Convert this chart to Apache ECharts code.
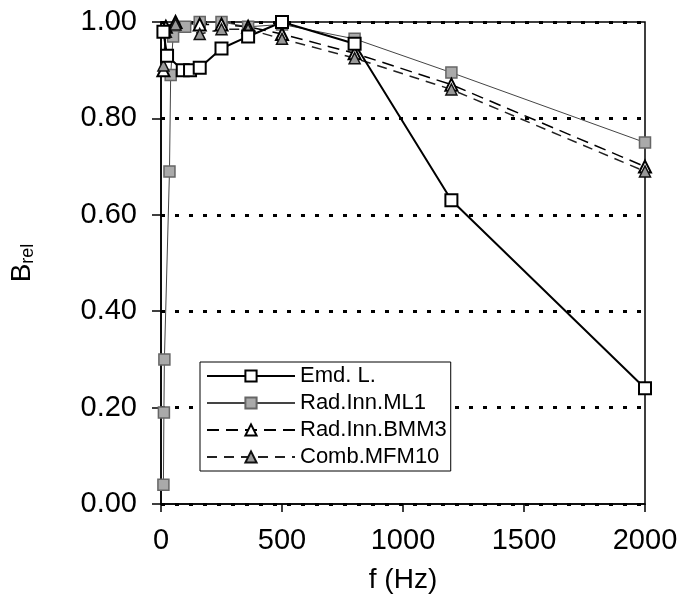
<!DOCTYPE html>
<html lang="en">
<head>
    <meta charset="UTF-8">
    <title>B_rel vs f</title>
</head>
<body style="margin:0;background:#fff">
<div id="main" style="width:680px;height:605px"></div>
<script src="https://cdn.jsdelivr.net/npm/echarts@6/dist/echarts.min.js"></script>
<script>
    // data: [f (Hz), B_rel]
    var emdL = [[10, 0.98], [25, 0.93], [90, 0.90], [120, 0.90], [160, 0.905], [250, 0.945],
        [360, 0.97], [500, 1.00], [800, 0.955], [1200, 0.63], [2000, 0.24]];
    var radML1 = [[10, 0.04], [12, 0.19], [14, 0.30], [35, 0.69], [40, 0.89], [50, 0.97],
        [100, 0.99], [160, 1.00], [250, 1.00], [360, 0.99], [500, 0.995], [800, 0.965],
        [1200, 0.895], [2000, 0.75]];
    var radBMM3 = [[10, 0.90], [20, 0.99], [60, 1.00], [160, 0.995], [250, 0.995], [360, 0.99],
        [500, 0.975], [800, 0.935], [1200, 0.87], [2000, 0.70]];
    var combMFM10 = [[10, 0.91], [20, 0.98], [60, 0.995], [160, 0.975], [250, 0.985], [360, 0.985],
        [500, 0.965], [800, 0.925], [1200, 0.86], [2000, 0.69]];
    var names = ['Emd. L.', 'Rad.Inn.ML1', 'Rad.Inn.BMM3', 'Comb.MFM10'];

    var font = 'Liberation Sans, Arial, sans-serif';
    var myChart = echarts.init(document.getElementById('main'));
    myChart.setOption({
        backgroundColor: '#fff',
        animation: false,
        grid: {
            left: 161, right: 35, top: 22, bottom: 101,
            outerBoundsMode: 'none', containLabel: false,
            show: true, borderColor: '#000', borderWidth: 1.5, backgroundColor: 'transparent'
        },
        legend: {
            orient: 'vertical',
            left: 200, top: 362,
            backgroundColor: '#fff',
            borderColor: '#000', borderWidth: 1,
            padding: [3, 4, 3, 6],
            itemWidth: 88, itemHeight: 14, itemGap: 5,
            data: names,
            textStyle: {fontFamily: font, fontSize: 22, color: '#000'}
        },
        xAxis: {
            type: 'value', min: 0, max: 2000, interval: 500,
            name: 'f (Hz)', nameLocation: 'middle', nameGap: 62,
            nameTextStyle: {fontFamily: font, fontSize: 28, color: '#000'},
            axisLine: {onZero: false, lineStyle: {color: '#000', width: 1.5}},
            axisTick: {show: true, length: 8, lineStyle: {color: '#000', width: 1.5}},
            axisLabel: {
                margin: 22, fontFamily: font, fontSize: 29, color: '#000',
                formatter: function (v) { return String(v); }
            },
            splitLine: {show: false}
        },
        yAxis: {
            type: 'value', min: 0, max: 1, interval: 0.2,
            name: '{b|B}{s|rel}', nameLocation: 'middle', nameGap: 124, nameRotate: 90,
            nameTextStyle: {
                rich: {
                    b: {fontFamily: font, fontSize: 28, color: '#000'},
                    s: {fontFamily: font, fontSize: 18, color: '#000', padding: [12, 0, 0, 0]}
                }
            },
            axisLine: {lineStyle: {color: '#000', width: 1.5}},
            axisTick: {show: true, length: 9, lineStyle: {color: '#000', width: 1.5}},
            axisLabel: {
                margin: 24, fontFamily: font, fontSize: 29, color: '#000',
                formatter: function (v) { return v.toFixed(2); }
            },
            splitLine: {show: true, lineStyle: {color: '#000', width: 3, type: [4, 10]}}
        },
        series: [
            {
                name: names[1], type: 'line', data: radML1,
                symbol: 'rect', symbolSize: 11,
                lineStyle: {color: '#444', width: 1},
                itemStyle: {color: '#aaa', borderColor: '#666', borderWidth: 1.5}
            },
            {
                name: names[2], type: 'line', data: radBMM3,
                symbol: 'triangle', symbolSize: 12,
                lineStyle: {color: '#000', width: 1.5, type: [12, 7]},
                itemStyle: {color: '#fff', borderColor: '#000', borderWidth: 2}
            },
            {
                name: names[3], type: 'line', data: combMFM10,
                symbol: 'triangle', symbolSize: 11,
                lineStyle: {color: '#222', width: 1.5, type: [10, 7]},
                itemStyle: {color: '#999', borderColor: '#111', borderWidth: 1.5}
            },
            {
                name: names[0], type: 'line', data: emdL,
                symbol: 'rect', symbolSize: 12, z: 5,
                lineStyle: {color: '#000', width: 2},
                itemStyle: {color: '#fff', borderColor: '#000', borderWidth: 2}
            }
        ]
    });
</script>
</body>
</html>
